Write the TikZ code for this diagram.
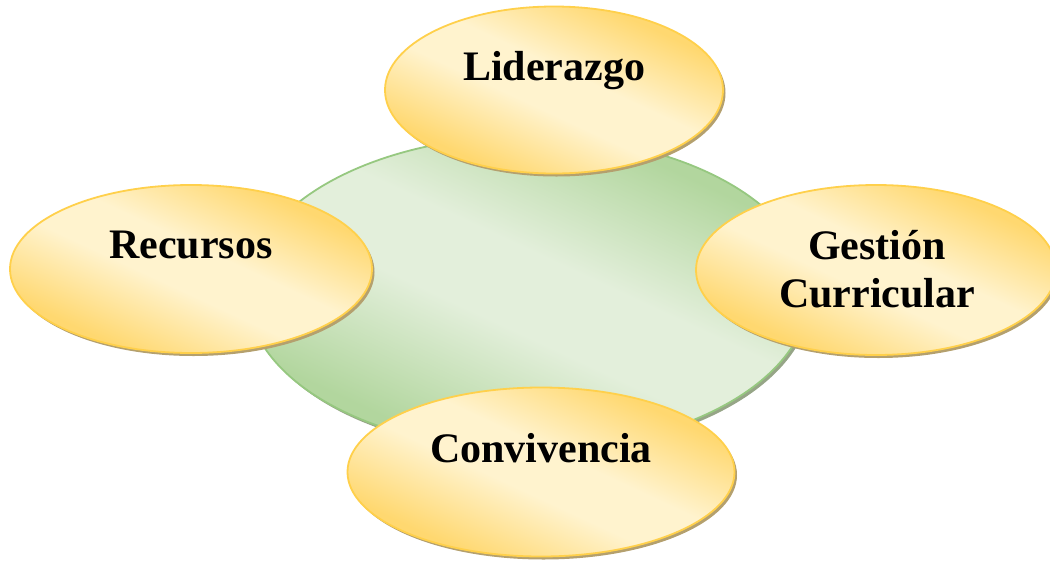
\documentclass[tikz,border=0pt]{standalone}
\usepackage{fontspec}
\setmainfont{Liberation Serif}
\usetikzlibrary{shapes.geometric,shadows}
\definecolor{ydark}{RGB}{255,216,112}
\definecolor{ylight}{RGB}{255,243,206}
\definecolor{yedge}{RGB}{255,208,75}
\definecolor{yshadow}{RGB}{180,160,110}
\definecolor{gdark}{RGB}{178,214,158}
\definecolor{glight}{RGB}{227,239,219}
\definecolor{gedge}{RGB}{150,200,128}
\definecolor{gshadow}{RGB}{150,165,135}
\pgfdeclareverticalshading{yshade}{100bp}{color(0bp)=(ydark); color(28bp)=(ydark); color(45bp)=(ylight); color(55bp)=(ylight); color(72bp)=(ydark); color(100bp)=(ydark)}
\pgfdeclareverticalshading{gshade}{100bp}{color(0bp)=(gdark); color(28bp)=(gdark); color(45bp)=(glight); color(55bp)=(glight); color(72bp)=(gdark); color(100bp)=(gdark)}
\tikzset{
  ybubble/.style={ellipse, inner sep=0pt, draw=yedge, line width=1.8pt,
    shade, shading=yshade, shading angle=-25,
    general shadow={shadow xshift=2.5pt, shadow yshift=-3pt, fill=yshadow, draw=none}},
  gbubble/.style={ellipse, inner sep=0pt, draw=gedge, line width=1.8pt,
    shade, shading=gshade, shading angle=-25,
    general shadow={shadow xshift=2.5pt, shadow yshift=-3pt, fill=gshadow, draw=none}},
  lbl/.style={font=\fontsize{42}{48}\selectfont\bfseries, align=center, inner sep=0pt, anchor=base}
}
\begin{document}
\begin{tikzpicture}[x=1pt,y=-1pt]
\useasboundingbox (0,0) rectangle (1050,563);
\node[gbubble, minimum width=562pt, minimum height=314pt] (core) at (528,293) {};
\node[ybubble, minimum width=362pt, minimum height=168pt] (rec) at (191,269) {};
\node[ybubble, minimum width=360pt, minimum height=170pt] (ges) at (876,270) {};
\node[ybubble, minimum width=338pt, minimum height=167pt] (lid) at (554,90) {};
\node[ybubble, minimum width=387pt, minimum height=169pt] (con) at (541,472) {};
\node[lbl] (tlid) at (554,80) {Liderazgo};
\node[lbl] (trec) at (191,258) {Recursos};
\node[lbl] (tges1) at (877,259) {Gestión};
\node[lbl] (tges2) at (877,307) {Curricular};
\node[lbl] (tcon) at (541,462) {Convivencia};
\end{tikzpicture}
\end{document}
